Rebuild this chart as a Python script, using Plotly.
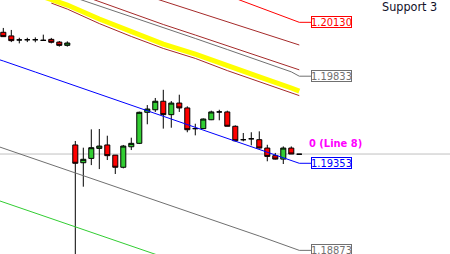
import plotly.graph_objects as go

# ---------------- data (prices) ----------------
bars = list(range(38))
open_ = [1.20075, 1.20055, 1.20033, 1.20034, 1.20034, 1.20030, 1.20036, 1.20021, 1.20003,
         1.19454, 1.19356, 1.19380, 1.19435, 1.19454, 1.19398, 1.19331, 1.19444, 1.19463,
         1.19634, 1.19648, 1.19695, 1.19621, 1.19685, 1.19658, 1.19544, 1.19544, 1.19593,
         1.19636, 1.19636, 1.19557, 1.19483, 1.19488, 1.19483, 1.19437, 1.19395, 1.19376,
         1.19437, 1.19403]
high = [1.20099, 1.20088, 1.20045, 1.20045, 1.20047, 1.20062, 1.20044, 1.20027, 1.20025,
        1.19476, 1.19439, 1.19540, 1.19542, 1.19505, 1.19398, 1.19454, 1.19494, 1.19638,
        1.19674, 1.19713, 1.19758, 1.19696, 1.19731, 1.19667, 1.19571, 1.19600, 1.19643,
        1.19648, 1.19643, 1.19562, 1.19520, 1.19524, 1.19529, 1.19455, 1.19410, 1.19446,
        1.19446, 1.19403]
low = [1.20049, 1.20021, 1.20014, 1.20021, 1.20020, 1.20029, 1.20014, 1.19996, 1.19996,
       1.18654, 1.19224, 1.19343, 1.19321, 1.19371, 1.19294, 1.19325, 1.19426, 1.19459,
       1.19568, 1.19636, 1.19544, 1.19549, 1.19636, 1.19524, 1.19507, 1.19542, 1.19591,
       1.19590, 1.19557, 1.19474, 1.19474, 1.19452, 1.19435, 1.19364, 1.19374, 1.19349,
       1.19404, 1.19403]
close = [1.20051, 1.20029, 1.20033, 1.20034, 1.20034, 1.20031, 1.20020, 1.20003, 1.20016,
         1.19353, 1.19375, 1.19439, 1.19448, 1.19395, 1.19331, 1.19448, 1.19463, 1.19634,
         1.19652, 1.19695, 1.19621, 1.19685, 1.19658, 1.19538, 1.19544, 1.19597, 1.19636,
         1.19636, 1.19557, 1.19477, 1.19483, 1.19488, 1.19437, 1.19391, 1.19376, 1.19437,
         1.19404, 1.19403]

# indicator lines (bar index, price)
yellow_x = [4, 6, 8, 12, 16, 20, 24, 28, 32, 36, 37]
yellow_y = [1.20286, 1.20253, 1.20225, 1.20148, 1.20077, 1.20010, 1.19955, 1.19889, 1.19829, 1.19768, 1.19751]
brown_low_x = [6, 8, 12, 16, 20, 24, 28, 32, 36, 37]
brown_low_y = [1.20236, 1.20203, 1.20123, 1.20052, 1.19986, 1.19931, 1.19864, 1.19804, 1.19743, 1.19726]
grey_up_x = [9, 12, 16, 20, 24, 28, 32, 36, 37]
grey_up_y = [1.20265, 1.20221, 1.20162, 1.20103, 1.20041, 1.19980, 1.19918, 1.19857, 1.19833]
brown_up1_x = [11, 12, 16, 20, 24, 28, 32, 36, 37]
brown_up1_y = [1.20260, 1.20244, 1.20180, 1.20118, 1.20060, 1.20001, 1.19942, 1.19884, 1.19868]
brown_up2_x = [19, 20, 24, 28, 32, 36, 37]
brown_up2_y = [1.20261, 1.20247, 1.20190, 1.20133, 1.20077, 1.20019, 1.20005]
red_x = [29, 32, 34, 37]
red_y = [1.20262, 1.20213, 1.20181, 1.20130]
blue_x = [-1, 0, 4, 8, 12, 16, 20, 24, 28, 32, 36, 37]
blue_y = [1.19931, 1.19917, 1.19856, 1.19795, 1.19735, 1.19674, 1.19614, 1.19553, 1.19492, 1.19432, 1.19371, 1.19353]
grey_low_x = [-1, 8, 16, 24, 32, 37]
grey_low_y = [1.19451, 1.19316, 1.19192, 1.19073, 1.18952, 1.18873]
green_x = [-1, 8, 16, 24]
green_y = [1.19154, 1.19018, 1.18897, 1.18776]

hline_price = 1.19404
hline_text = "0 (Line 8)"
corner_text = "Support 3"

# ---------------- layout helpers ----------------
Y_RANGE = [1.18853, 1.20253]
X_RANGE = [-0.4125, 55.84]
LABEL_X = 38.46
LABEL_FONT = "DejaVu Sans Condensed, Liberation Sans, sans-serif"

fig = go.Figure()

def add_line(xs, ys, color, width=1):
    fig.add_trace(go.Scatter(x=xs, y=ys, mode="lines",
                             line=dict(color=color, width=width),
                             hoverinfo="skip", showlegend=False))

add_line(green_x, green_y, "#32CD32")
add_line(grey_low_x, grey_low_y, "#707070")
add_line(blue_x, blue_y, "#0000FF")
add_line(brown_low_x, brown_low_y, "#A52A2A")
add_line(yellow_x, yellow_y, "#FFFF00", 5)
add_line(grey_up_x, grey_up_y, "#707070")
add_line(brown_up1_x, brown_up1_y, "#A52A2A")
add_line(brown_up2_x, brown_up2_y, "#A52A2A")
add_line(red_x, red_y, "#FF0000")

fig.add_shape(type="line", xref="paper", x0=0, x1=1, yref="y",
              y0=hline_price, y1=hline_price,
              line=dict(color="#C0C0C0", width=1), layer="below")

fig.add_trace(go.Candlestick(
    x=bars, open=open_, high=high, low=low, close=close,
    increasing=dict(fillcolor="#32CD32", line=dict(color="black", width=1)),
    decreasing=dict(fillcolor="#FF0000", line=dict(color="black", width=1)),
    whiskerwidth=0, hoverinfo="skip", showlegend=False))

# price labels at the right end of selected lines
for ys, color in [(red_y, "#FF0000"), (grey_up_y, "#707070"),
                  (blue_y, "#0000FF"), (grey_low_y, "#707070")]:
    v = ys[-1]
    add_line([bars[-1], LABEL_X], [v, v], color)
    fig.add_annotation(x=LABEL_X, y=v, xref="x", yref="y", xanchor="left",
                       yanchor="middle", text=f"{v:.5f}", showarrow=False,
                       font=dict(family=LABEL_FONT, size=11, color=color),
                       bgcolor="white", bordercolor=color, borderwidth=1,
                       borderpad=0, width=39, height=10)

fig.add_annotation(x=(307 - 3.3) / 8, y=hline_price, xref="x", yref="y",
                   xanchor="left", yanchor="bottom", showarrow=False,
                   text=f"<b>{hline_text}</b>", yshift=2,
                   font=dict(family=LABEL_FONT, size=11, color="#FF00FF"))

fig.add_annotation(x=380 / 450, y=1, xref="paper", yref="paper",
                   xanchor="left", yanchor="top", showarrow=False,
                   text=corner_text, yshift=3,
                   font=dict(family=LABEL_FONT, size=12.5, color="#101028"))

fig.update_layout(
    width=450, height=254, margin=dict(l=0, r=0, t=0, b=0),
    paper_bgcolor="white", plot_bgcolor="white",
    boxgap=0.3, boxgroupgap=0.1,
    xaxis=dict(range=X_RANGE, visible=False, rangeslider=dict(visible=False), fixedrange=True),
    yaxis=dict(range=Y_RANGE, visible=False, fixedrange=True),
    showlegend=False,
)

fig.write_html("out.html")
